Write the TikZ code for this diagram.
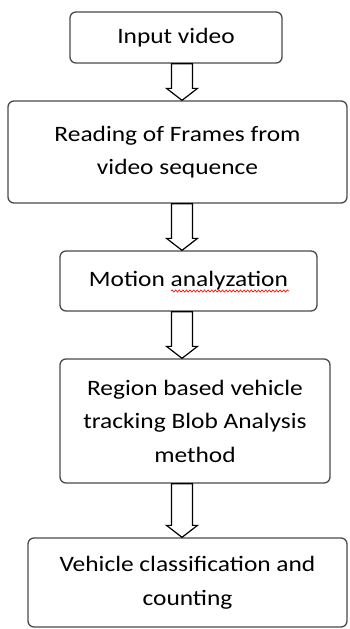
\documentclass[tikz,border=0pt]{standalone}
\usepackage{fontspec}
\setmainfont{Carlito}[FakeStretch=1.155]
\usetikzlibrary{calc,decorations.pathmorphing}
\definecolor{boxgray}{HTML}{4A4A4A}
\tikzset{
  flowbox/.style={draw=boxgray, line width=1.3pt, rounded corners=6pt, fill=white,
    inner sep=0pt, align=center, text=black,
    font={\fontsize{22}{33.5}\selectfont}},
  blockarr/.style={draw=black, line width=1.2pt, fill=white, line join=miter},
  squiggle/.style={draw=red, line width=0.6pt, decorate,
    decoration={snake, amplitude=1.1pt, segment length=3.6pt}}
}
\newcommand\blockarrow[2]{%
  \draw[blockarr]
    ($(ax |- #1.south)+(-10.5,0)$) --
    ($(ax |- #2.north)+(-10.5,-12)$) --
    ($(ax |- #2.north)+(-15.5,-12)$) --
    (ax |- #2.north) --
    ($(ax |- #2.north)+(15.5,-12)$) --
    ($(ax |- #2.north)+(10.5,-12)$) --
    ($(ax |- #1.south)+(10.5,0)$) -- cycle;}
\begin{document}
\begin{tikzpicture}[x=1pt,y=-1pt]
\useasboundingbox[fill=white] (0,0) rectangle (349,629);
\coordinate (ax) at (182,0);
\node[flowbox, minimum width=212pt, minimum height=51pt] (b1) at (176,37.5) {Input video};
\node[flowbox, minimum width=339pt, minimum height=102pt] (b2) at (177.5,152) {Reading of Frames from\\video sequence};
\node[flowbox, minimum width=257pt, minimum height=60pt] (b3) at (188.5,281) {Motion analyzation};
\node[flowbox, minimum width=270pt, minimum height=124pt] (b4) at (195,421) {Region based vehicle\\tracking Blob Analysis\\method};
\node[flowbox, minimum width=319pt, minimum height=89pt] (b5) at (187.5,582.5) {Vehicle classification and\\counting};
\blockarrow{b1}{b2}
\blockarrow{b2}{b3}
\blockarrow{b3}{b4}
\blockarrow{b4}{b5}
\coordinate (sqa) at (171,291);
\coordinate (sqb) at (289,291);
\draw[squiggle] (sqa) -- (sqb);
\end{tikzpicture}
\end{document}
